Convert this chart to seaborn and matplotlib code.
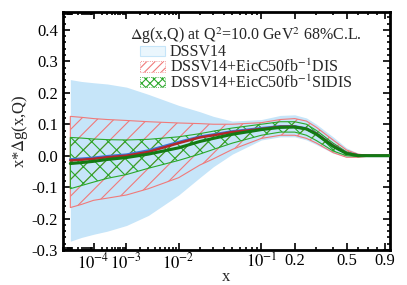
import numpy as np
import pandas as pd
import seaborn as sns
import matplotlib.pyplot as plt
from matplotlib.patches import Patch

# x grid
x = [7e-6, 3e-5, 1e-4, 3e-4, 1e-3, 3e-3, 1e-2, 2e-2, 3e-2, 5e-2, 0.1, 0.15,
     0.2, 0.25, 0.3, 0.4, 0.5, 0.6, 0.7, 0.8, 0.9, 0.96]

# DSSV14 band
dssv_up = [0.242, 0.236, 0.232, 0.228, 0.218, 0.195, 0.16, 0.14, 0.125, 0.11, 0.115, 0.128,
           0.13, 0.12, 0.10, 0.06, 0.025, 0.008, 0.002, 0.0, 0.0, 0.0]
dssv_lo = [-0.272, -0.26, -0.25, -0.24, -0.222, -0.19, -0.125, -0.07, -0.035, 0.005, 0.05, 0.06,
           0.06, 0.05, 0.035, 0.008, -0.005, -0.005, -0.002, 0.0, 0.0, 0.0]
dssv_c = [-0.012, -0.01, -0.007, -0.002, 0.003, 0.016, 0.043, 0.06, 0.067, 0.077, 0.087, 0.093,
          0.093, 0.086, 0.07, 0.032, 0.008, 0.001, 0.0, 0.0, 0.0, 0.0]

# DSSV14 + EicC 50fb^-1 DIS
dis_up = [0.125, 0.122, 0.118, 0.115, 0.112, 0.108, 0.104, 0.102, 0.10, 0.10, 0.105, 0.115,
          0.118, 0.11, 0.09, 0.05, 0.018, 0.005, 0.001, 0.0, 0.0, 0.0]
dis_lo = [-0.165, -0.155, -0.142, -0.135, -0.125, -0.105, -0.07, -0.03, -0.01, 0.02, 0.055, 0.065,
          0.065, 0.055, 0.04, 0.01, -0.005, -0.005, -0.002, 0.0, 0.0, 0.0]
dis_c = [-0.015, -0.013, -0.01, -0.005, 0.0, 0.012, 0.04, 0.058, 0.065, 0.075, 0.085, 0.092,
         0.092, 0.085, 0.07, 0.032, 0.008, 0.001, 0.0, 0.0, 0.0, 0.0]

# DSSV14 + EicC 50fb^-1 SIDIS
sidis_up = [0.058, 0.056, 0.053, 0.051, 0.05, 0.052, 0.06, 0.07, 0.078, 0.088, 0.1, 0.108,
            0.108, 0.1, 0.08, 0.04, 0.012, 0.003, 0.0, 0.0, 0.0, 0.0]
sidis_lo = [-0.105, -0.095, -0.084, -0.072, -0.06, -0.04, -0.015, 0.005, 0.02, 0.04, 0.065, 0.075,
            0.075, 0.065, 0.048, 0.015, 0.0, -0.003, -0.001, 0.0, 0.0, 0.0]
sidis_c = [-0.025, -0.022, -0.018, -0.012, -0.006, 0.005, 0.025, 0.045, 0.055, 0.068, 0.083, 0.09,
           0.091, 0.085, 0.068, 0.03, 0.007, 0.0, 0.0, 0.0, 0.0, 0.0]

xmajor = [1e-4, 1e-3, 1e-2, 0.1, 0.2, 0.5, 0.9]
xlabels = [r'$10^{-4}$', r'$10^{-3}$', r'$10^{-2}$', r'$10^{-1}$', '0.2', '0.5', '0.9']

sns.set_theme(style='ticks')
plt.rcParams['font.family'] = ['Liberation Serif', 'DejaVu Serif']
plt.rcParams['mathtext.fontset'] = 'stix'
plt.rcParams['hatch.linewidth'] = 0.8

fig = plt.figure(figsize=(4.07, 2.85), dpi=100)
ax = fig.add_axes([63 / 407, 1 - 250 / 285, 327 / 407, 238 / 285])

# x axis is a power scale (x^0.2) like in the original plot
ax.set_xscale('function', functions=(lambda v: np.power(np.clip(v, 0, None), 0.2),
                                     lambda v: np.power(np.clip(v, 0, None), 5.0)))

c_blue_fill = '#c6e5f9'
c_blue = '#3b78d8'
c_red_h = '#f07a7a'
c_red = '#b3262a'
c_green_h = '#2aa82a'
c_green = '#137a13'

ax.fill_between(x, dssv_lo, dssv_up, color=c_blue_fill, lw=0, zorder=1)
ax.fill_between(x, dis_lo, dis_up, facecolor='none', edgecolor=c_red_h, hatch='//', lw=0.8, zorder=2)
ax.fill_between(x, sidis_lo, sidis_up, facecolor='none', edgecolor=c_green_h, hatch='xx', lw=0.8, zorder=3)

df = pd.DataFrame({'x': x, 'DSSV14': dssv_c, 'DIS': dis_c, 'SIDIS': sidis_c})
sns.lineplot(data=df, x='x', y='DSSV14', color=c_blue, lw=2.0, ax=ax, zorder=4)
sns.lineplot(data=df, x='x', y='DIS', color=c_red, lw=1.8, ax=ax, zorder=5)
sns.lineplot(data=df, x='x', y='SIDIS', color=c_green, lw=2.2, ax=ax, zorder=6)

ax.set_xlim(0.092 ** 5, 0.993 ** 5)
ax.set_ylim(-0.3, 0.457)

ax.set_xticks(xmajor)
ax.set_xticklabels(xlabels)
minors = [k * 10.0 ** d for d in range(-6, -1) for k in range(2, 10)] + [0.3, 0.4, 0.6, 0.7, 0.8]
ax.set_xticks(minors, minor=True)
ax.set_yticks(np.arange(-0.3, 0.41, 0.1))
ax.set_yticklabels(['%.1f' % v for v in np.arange(-0.3, 0.41, 0.1)])
ax.set_yticks(np.arange(-0.3, 0.46, 0.02), minor=True)

ax.tick_params(which='both', direction='in', top=True, right=True, labelsize=12, width=1.2,
               colors='black')
ax.tick_params(axis='x', pad=2)
ax.tick_params(which='major', length=5)
ax.tick_params(which='minor', length=2.5)
for s in ax.spines.values():
    s.set_linewidth(2)
    s.set_color('black')

ax.set_xlabel('x', fontsize=12, labelpad=-3)
ax.set_ylabel(r'x*$\Delta$g(x,Q)', fontsize=12, labelpad=1)

handles = [
    Patch(facecolor='#eaf6fd', edgecolor=c_blue_fill, lw=0.8),
    Patch(facecolor='none', edgecolor=c_red_h, hatch='////', lw=0.6, ls=':'),
    Patch(facecolor='none', edgecolor=c_green_h, hatch='xxxx', lw=0.6, ls=':'),
]
labels = ['DSSV14', r'DSSV14+EicC50fb$^{-1}$DIS', r'DSSV14+EicC50fb$^{-1}$SIDIS']
leg = ax.legend(handles, labels, loc='upper center', bbox_to_anchor=(0.56, 0.985), frameon=False,
                fontsize=11.5, title=r'$\Delta$g(x,Q) at Q$^2$=10.0 GeV$^2$ 68%C.L.', title_fontsize=11.5,
                handlelength=1.6, handleheight=0.6, handletextpad=0.3, labelspacing=-0.1,
                borderpad=0.1)
leg._legend_box.align = 'center'
leg._legend_box.sep = -1

fig.savefig('out.png', dpi=100)
